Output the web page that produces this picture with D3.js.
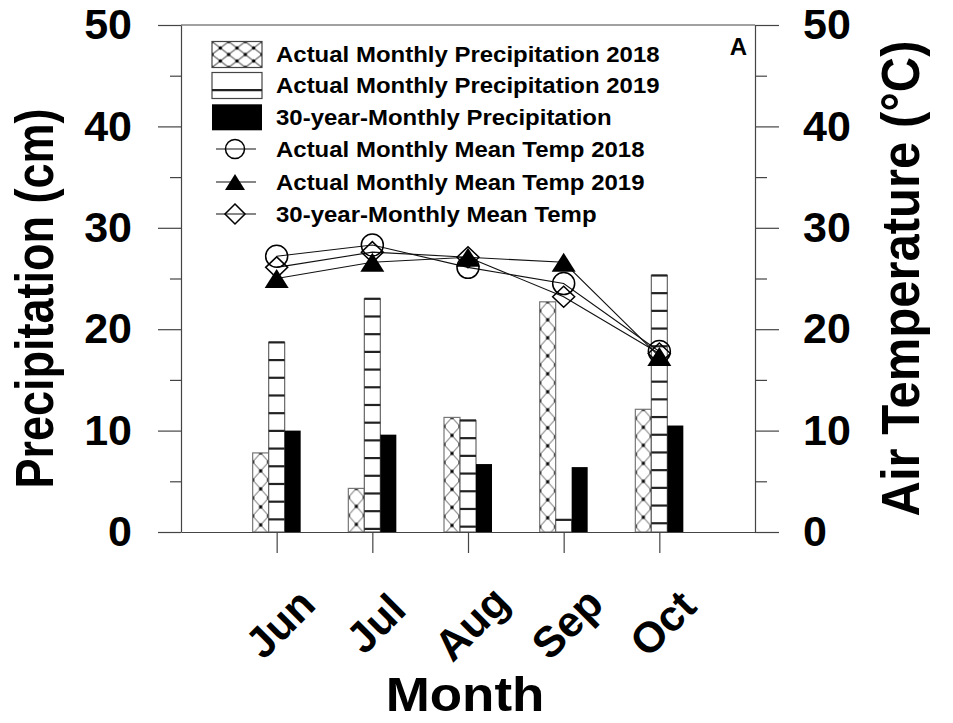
<!DOCTYPE html>
<html>
<head>
<meta charset="utf-8">
<script src="https://cdn.jsdelivr.net/npm/d3@7"></script>
<style>
  body { margin: 0; background: #fff; }
  svg { display: block; }
  text { font-family: "Liberation Sans", Arial, Helvetica, sans-serif; font-weight: bold; fill: #000; }
</style>
</head>
<body>
<svg id="chart" width="953" height="723"></svg>
<script>
// Monthly precipitation (cm) and mean air temperature (°C)
const months = ["Jun", "Jul", "Aug", "Sep", "Oct"];
const monthNumber = [6, 7, 8, 9, 10];

const precip2018 = [7.8, 4.3, 11.3, 22.7, 12.1];
const precip2019 = [18.7, 23.0, 11.0, 1.2, 25.3];
const precip30yr = [10.0, 9.6, 6.7, 6.4, 10.5];

const temp2018 = [27.2, 28.3, 26.1, 24.5, 17.8];
const temp2019 = [25.0, 26.6, 27.1, 26.6, 17.3];
const temp30yr = [26.1, 27.6, 27.1, 23.2, 17.6];

const yTickValues = [0, 10, 20, 30, 40, 50];
const yMinorValues = [5, 15, 25, 35, 45];

const legendLabels = [
  "Actual Monthly Precipitation 2018",
  "Actual Monthly Precipitation 2019",
  "30-year-Monthly Precipitation",
  "Actual Monthly Mean Temp 2018",
  "Actual Monthly Mean Temp 2019",
  "30-year-Monthly Mean Temp"
];

const svg = d3.select("#chart");
const defs = svg.append("defs");

const plot = { left: 181, right: 755, top: 25, bottom: 532 };
const x = d3.scaleLinear().domain([5, 11]).range([plot.left, plot.right]);
const yP = d3.scaleLinear().domain([0, 50]).range([plot.bottom, plot.top]);
const yT = d3.scaleLinear().domain([0, 50]).range([plot.bottom, plot.top]);

const barW = 16;
const hatchW = 16, hatchH = 18, stripeStep = 17.7;

// cross-hatch pattern, anchored at a given origin
function makeHatch(id, ox, oy, w, h) {
  const p = defs.append("pattern")
    .attr("id", id)
    .attr("patternUnits", "userSpaceOnUse")
    .attr("x", ox).attr("y", oy)
    .attr("width", w).attr("height", h);
  p.append("rect").attr("width", w).attr("height", h).attr("fill", "#fff");
  p.append("path")
    .attr("d", `M0,0L${w},${h}M${w},0L0,${h}`)
    .attr("stroke", "#555").attr("stroke-width", 1).attr("fill", "none");
  [[w / 2, h / 2], [0, 0], [w, 0], [0, h], [w, h]].forEach(([cx, cy]) => {
    p.append("circle").attr("cx", cx).attr("cy", cy).attr("r", 1.7).attr("fill", "#000");
  });
}

// ---- bars ----
const bars = svg.append("g");

months.forEach((m, i) => {
  const cx = x(monthNumber[i]);

  // 2018: cross-hatched
  const x0 = cx - 1.5 * barW;
  const top0 = yP(precip2018[i]);
  makeHatch("hatch" + i, x0 + barW / 2, top0, hatchW, hatchH);
  bars.append("rect")
    .attr("x", x0).attr("y", top0)
    .attr("width", barW).attr("height", yP(0) - top0)
    .attr("fill", `url(#hatch${i})`)
    .attr("stroke", "#777").attr("stroke-width", 1.2);

  // 2019: horizontal stripes from the bar top down
  const x1 = cx - 0.5 * barW;
  const top1 = yP(precip2019[i]);
  bars.append("rect")
    .attr("x", x1).attr("y", top1)
    .attr("width", barW).attr("height", yP(0) - top1)
    .attr("fill", "#fff")
    .attr("stroke", "#666").attr("stroke-width", 1.2);
  const stripes = d3.range(top1, yP(0) - 2, stripeStep);
  bars.selectAll(null).data(stripes).enter().append("line")
    .attr("x1", x1).attr("x2", x1 + barW)
    .attr("y1", d => d).attr("y2", d => d)
    .attr("stroke", "#222").attr("stroke-width", 2.2);

  // 30-year: solid black
  const x2 = cx + 0.5 * barW;
  const top2 = yP(precip30yr[i]);
  bars.append("rect")
    .attr("x", x2).attr("y", top2)
    .attr("width", barW).attr("height", yP(0) - top2)
    .attr("fill", "#000");
});

// ---- axes ----
const axisColor = "#444";
function styleAxis(g) {
  g.selectAll("path, line").attr("stroke", axisColor).attr("stroke-width", 1.2);
  g.selectAll("text").attr("font-size", 43).attr("font-family", "Liberation Sans, Arial, sans-serif").attr("font-weight", "bold").attr("fill", "#000");
}

// left axis
const leftAxis = svg.append("g").attr("transform", `translate(${plot.left},0)`)
  .call(d3.axisLeft(yP).tickValues(yTickValues).tickSize(23).tickSizeOuter(0).tickPadding(26).tickFormat(d3.format("d")));
styleAxis(leftAxis);
svg.append("g").attr("transform", `translate(${plot.left},0)`)
  .call(d3.axisLeft(yP).tickValues(yMinorValues).tickSize(11).tickSizeOuter(0).tickFormat(""))
  .call(g => g.select(".domain").remove())
  .call(styleAxis);

// right axis
const rightAxis = svg.append("g").attr("transform", `translate(${plot.right},0)`)
  .call(d3.axisRight(yT).tickValues(yTickValues).tickSize(24).tickSizeOuter(0).tickPadding(24).tickFormat(d3.format("d")));
styleAxis(rightAxis);
svg.append("g").attr("transform", `translate(${plot.right},0)`)
  .call(d3.axisRight(yT).tickValues(yMinorValues).tickSize(12).tickSizeOuter(0).tickFormat(""))
  .call(g => g.select(".domain").remove())
  .call(styleAxis);

// bottom axis
const bottomAxis = svg.append("g").attr("transform", `translate(0,${plot.bottom})`)
  .call(d3.axisBottom(x).tickValues(monthNumber).tickSize(21).tickSizeOuter(0).tickFormat(""));
styleAxis(bottomAxis);

// top frame line
svg.append("line")
  .attr("x1", plot.left).attr("x2", plot.right)
  .attr("y1", plot.top).attr("y2", plot.top)
  .attr("stroke", axisColor).attr("stroke-width", 1.2);

// month labels, rotated
svg.append("g").selectAll("text").data(months).enter().append("text")
  .attr("transform", (d, i) => `translate(${x(monthNumber[i]) + 3},623) rotate(-45)`)
  .attr("text-anchor", "middle")
  .attr("dy", "0.36em")
  .attr("font-size", 43)
  .text(d => d);

// axis titles (slightly widened glyphs)
svg.append("text")
  .attr("transform", `translate(53,${(plot.top + plot.bottom) / 2 + 20}) rotate(-90) scale(1,1.2)`)
  .attr("text-anchor", "middle")
  .attr("font-size", 45)
  .text("Precipitation (cm)");

svg.append("text")
  .attr("transform", `translate(919,${(plot.top + plot.bottom) / 2}) rotate(-90) scale(1,1.1)`)
  .attr("text-anchor", "middle")
  .attr("font-size", 49)
  .text("Air Temperature (°C)");

svg.append("text")
  .attr("transform", `translate(${x(8) - 3},711) scale(1.08,1)`)
  .attr("text-anchor", "middle")
  .attr("font-size", 49)
  .text("Month");

svg.append("text")
  .attr("x", 747).attr("y", 55)
  .attr("text-anchor", "end")
  .attr("font-size", 24)
  .text("A");

// ---- temperature lines and markers ----
const line = d3.line().x(d => x(d[0])).y(d => yT(d[1]));
const tSeries = [temp2018, temp2019, temp30yr];
const lines = svg.append("g");
tSeries.forEach(s => {
  lines.append("path")
    .attr("d", line(s.map((v, i) => [monthNumber[i], v])))
    .attr("fill", "none").attr("stroke", "#111").attr("stroke-width", 1.1);
});

function trianglePath(w, h) {
  return `M0,${-h / 2}L${w / 2},${h / 2}L${-w / 2},${h / 2}Z`;
}
function diamondPath(a, b) {
  return `M0,${-b}L${a},0L0,${b}L${-a},0Z`;
}

const markers = svg.append("g");
temp30yr.forEach((v, i) => {
  markers.append("path")
    .attr("transform", `translate(${x(monthNumber[i])},${yT(v)})`)
    .attr("d", diamondPath(11, 10.5))
    .attr("fill", "none").attr("stroke", "#000").attr("stroke-width", 1.5);
});
temp2018.forEach((v, i) => {
  markers.append("circle")
    .attr("cx", x(monthNumber[i])).attr("cy", yT(v)).attr("r", 11)
    .attr("fill", "none").attr("stroke", "#000").attr("stroke-width", 1.5);
});
temp2019.forEach((v, i) => {
  markers.append("path")
    .attr("transform", `translate(${x(monthNumber[i])},${yT(v)})`)
    .attr("d", trianglePath(24, 19))
    .attr("fill", "#000");
});

// ---- legend ----
const legend = svg.append("g");
const rowY = [54.5, 85.5, 117.3, 149, 182, 214];
const swX = 212, swW = 50, swH = 26, textX = 276;

makeHatch("hatchLegend", swX, rowY[0] - swH / 2, swW / 3, swH / 2);
legend.append("rect")
  .attr("x", swX).attr("y", rowY[0] - swH / 2).attr("width", swW).attr("height", swH)
  .attr("fill", "url(#hatchLegend)").attr("stroke", "#444").attr("stroke-width", 1.2);

legend.append("rect")
  .attr("x", swX).attr("y", rowY[1] - swH / 2).attr("width", swW).attr("height", swH)
  .attr("fill", "#fff").attr("stroke", "#444").attr("stroke-width", 1.2);
legend.append("line")
  .attr("x1", swX).attr("x2", swX + swW)
  .attr("y1", rowY[1] - swH / 2 + stripeStep).attr("y2", rowY[1] - swH / 2 + stripeStep)
  .attr("stroke", "#222").attr("stroke-width", 2.2);

legend.append("rect")
  .attr("x", swX).attr("y", rowY[2] - swH / 2).attr("width", swW).attr("height", swH)
  .attr("fill", "#000");

[3, 4, 5].forEach(r => {
  legend.append("line")
    .attr("x1", swX + 4).attr("x2", swX + swW - 6)
    .attr("y1", rowY[r]).attr("y2", rowY[r])
    .attr("stroke", "#111").attr("stroke-width", 1.1);
});
const lgCx = swX + 23;
legend.append("circle").attr("cx", lgCx).attr("cy", rowY[3]).attr("r", 9.5)
  .attr("fill", "none").attr("stroke", "#000").attr("stroke-width", 1.5);
legend.append("path").attr("transform", `translate(${lgCx},${rowY[4]})`)
  .attr("d", trianglePath(20, 16)).attr("fill", "#000");
legend.append("path").attr("transform", `translate(${lgCx},${rowY[5]})`)
  .attr("d", diamondPath(10, 10)).attr("fill", "none").attr("stroke", "#000").attr("stroke-width", 1.5);

legend.selectAll("text.lg").data(legendLabels).enter().append("text")
  .attr("class", "lg")
  .attr("transform", (d, i) => `translate(${textX},${rowY[i]}) scale(1.09,1)`)
  .attr("dy", "0.35em")
  .attr("font-size", 22)
  .text(d => d);
</script>
</body>
</html>
